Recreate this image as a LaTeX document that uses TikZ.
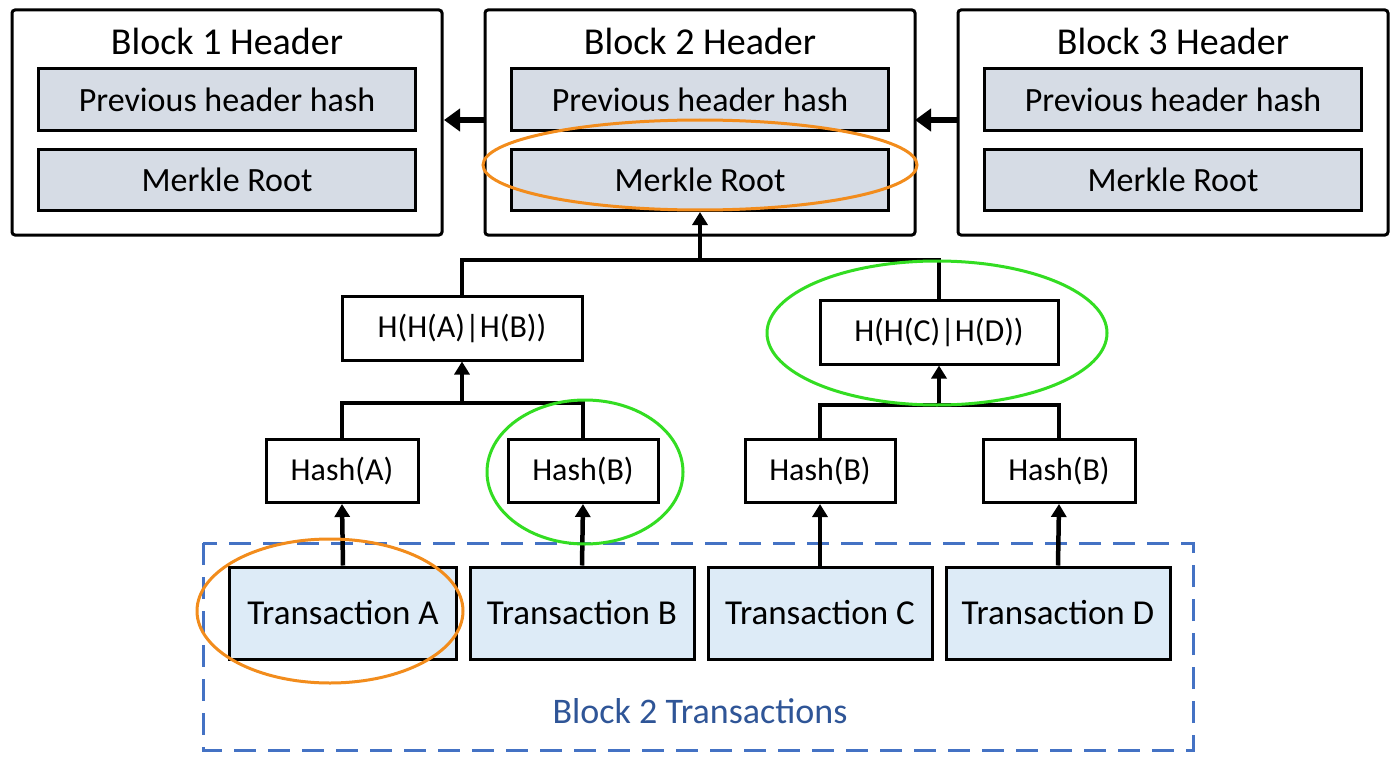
\documentclass[tikz,border=0pt]{standalone}
\usepackage{fontspec}
\setmainfont{Carlito}
\usetikzlibrary{arrows.meta}
\definecolor{hdrfill}{HTML}{D6DCE5}
\definecolor{txfill}{HTML}{DDEBF7}
\definecolor{dblue}{HTML}{4472C4}
\definecolor{tblue}{HTML}{2F5597}
\definecolor{ora}{HTML}{F28C1C}
\definecolor{grn}{HTML}{33DD22}
\begin{document}
\begin{tikzpicture}[x=1pt,y=-1pt,
  outer/.style={draw,line width=3pt,rounded corners=3pt,inner sep=0},
  inbox/.style={draw,line width=3pt,fill=hdrfill,inner sep=0,font=\fontsize{34}{40}\selectfont},
  hbox/.style={draw,line width=3pt,fill=white,inner sep=0,font=\fontsize{32}{36}\selectfont},
  tbox/.style={draw,line width=3pt,fill=txfill,inner sep=0,font=\fontsize{35}{40}\selectfont},
  conn/.style={line width=4.5pt},
  arr/.style={line width=4.5pt,-{Triangle[length=13pt,width=15pt]}},
  bigarr/.style={line width=6pt,-{Triangle[length=16pt,width=22pt]}},
  ring/.style={line width=3pt}]
\fill[white] (0,0) rectangle (1400,765);
\useasboundingbox (0,0) rectangle (1400,765);
% headers
\foreach \n/\x in {1/12,2/485,3/958}{
  \draw[outer] (\x,10) rectangle ++(430,225);
  \node[font=\fontsize{38}{42}\selectfont] (title\n) at (\x+215,41) {Block \n{} Header};
  \node[inbox,minimum width=377pt,minimum height=62pt] (prev\n) at (\x+215,100) {Previous header hash};
  \node[inbox,minimum width=377pt,minimum height=61pt] (mr\n) at (\x+215,180) {Merkle Root};
}
\coordinate (b1r) at (444,120); \coordinate (b2l) at (485,120);
\coordinate (b2r) at (915,120); \coordinate (b3l) at (958,120);
\draw[bigarr] (b2l) -- (b1r);
\draw[bigarr] (b3l) -- (b2r);
% middle level
\node[hbox,minimum width=240pt,minimum height=64pt] (hab) at (462,328) {H(H(A)|H(B))};
\node[hbox,minimum width=238pt,minimum height=64pt] (hcd) at (939,332) {H(H(C)|H(D))};
\coordinate (j1) at (700,260);
\draw[conn] (hab.north) |- (j1) -| (hcd.north);
\draw[arr] (j1) -- (mr2.south);
% hash level
\node[hbox,minimum width=152pt,minimum height=63pt] (ha) at (342,471) {Hash(A)};
\node[hbox,minimum width=150pt,minimum height=63pt] (hb) at (583,471) {Hash(B)};
\node[hbox,minimum width=150pt,minimum height=63pt] (hc) at (820,471) {Hash(B)};
\node[hbox,minimum width=152pt,minimum height=63pt] (hd) at (1059,471) {Hash(B)};
\coordinate (j2) at (462,403); \coordinate (j3) at (939,405);
\draw[conn] (ha.north) |- (j2) -| (hb.north);
\draw[arr] (j2) -- (hab.south);
\draw[conn] (hc.north) |- (j3) -| (hd.north);
\draw[arr] (j3) -- (hcd.south);
% transactions
\draw[dblue,line width=3pt,dash pattern=on 22pt off 12pt] (203,543) rectangle (1193,750);
\node[tbox,minimum width=227pt,minimum height=92pt] (ta) at (343,613) {Transaction A};
\node[tbox,minimum width=224pt,minimum height=92pt] (tb) at (582,613) {Transaction B};
\node[tbox,minimum width=224pt,minimum height=92pt] (tc) at (820,613) {Transaction C};
\node[tbox,minimum width=224pt,minimum height=92pt] (td) at (1058,613) {Transaction D};
\node[text=tblue,font=\fontsize{36}{40}\selectfont] (lbl) at (700,711) {Block 2 Transactions};
\draw[arr] (ta.north) -- (ha.south);
\draw[arr] (tb.north) -- (hb.south);
\draw[arr] (tc.north) -- (hc.south);
\draw[arr] (td.north) -- (hd.south);
% highlight rings
\draw[ring,ora] (700,165) ellipse [x radius=217pt,y radius=45pt];
\draw[ring,ora] (330,611) ellipse [x radius=133pt,y radius=72pt];
\draw[ring,grn] (585,472) ellipse [x radius=98pt,y radius=72pt];
\draw[ring,grn] (937,333) ellipse [x radius=170pt,y radius=72pt];
\end{tikzpicture}
\end{document}
